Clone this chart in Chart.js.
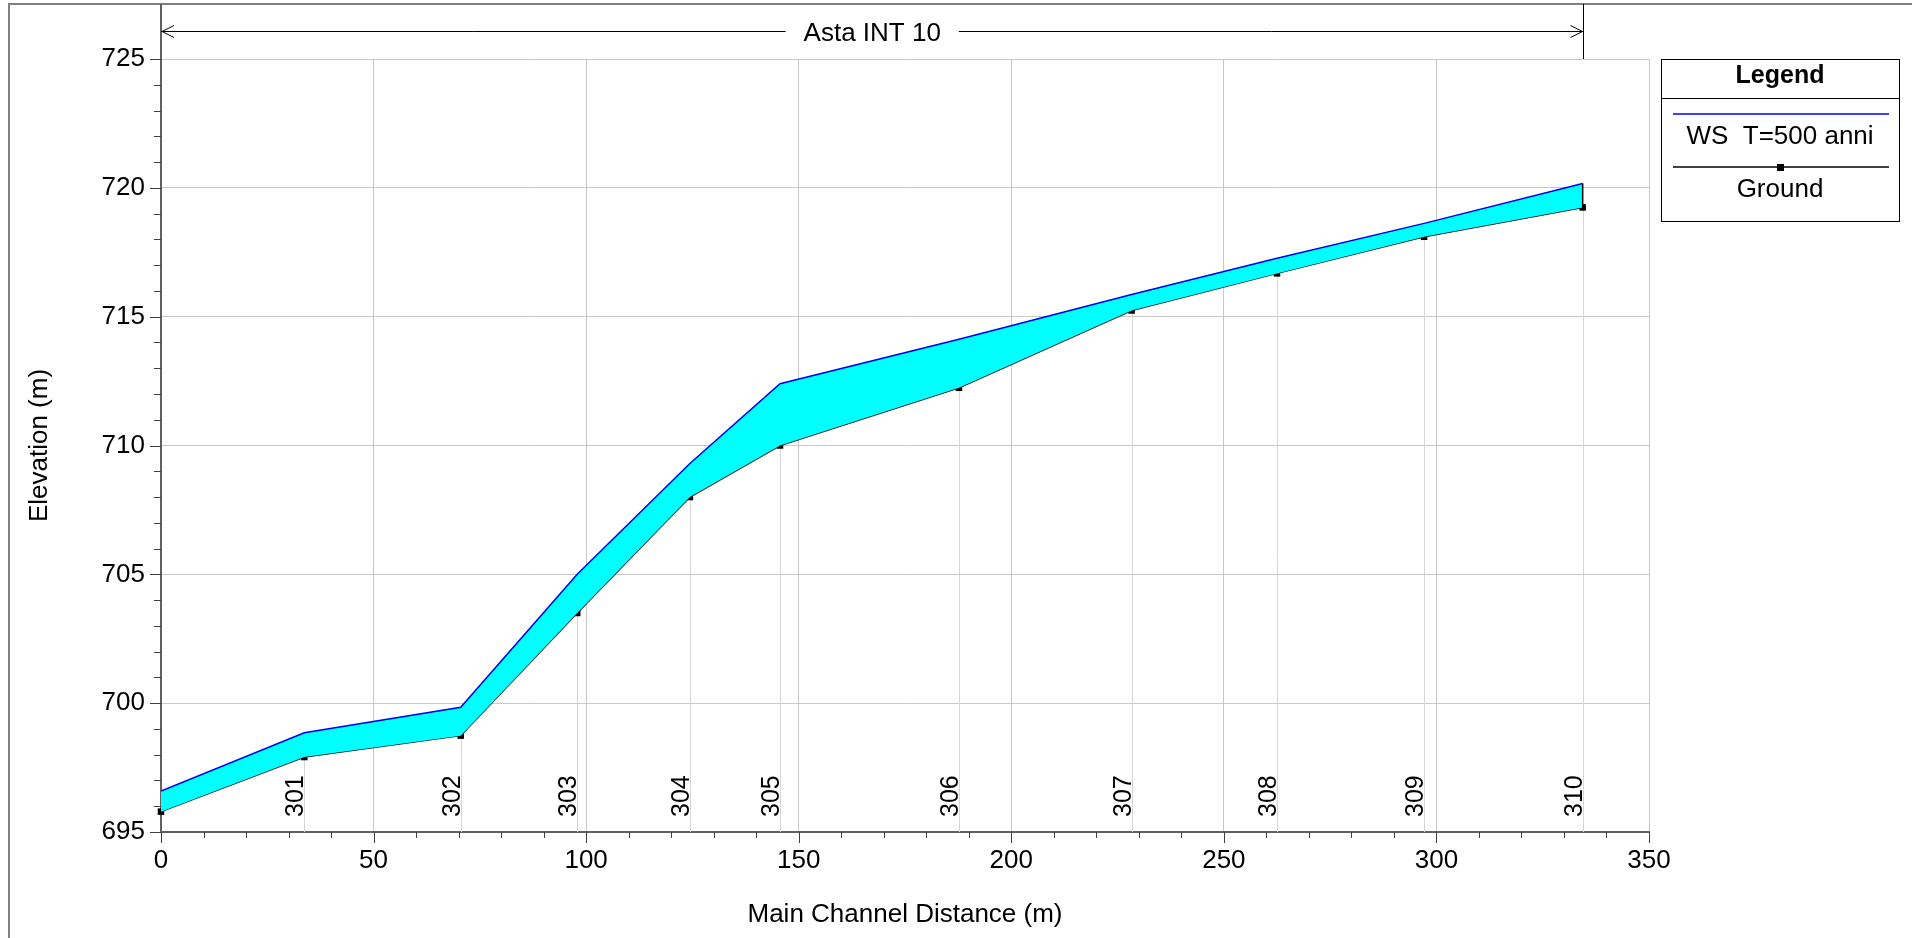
<!DOCTYPE html>
<html>
<head>
<meta charset="utf-8">
<title>Asta INT 10</title>
<script src="https://cdn.jsdelivr.net/npm/chart.js@4.4.0/dist/chart.umd.min.js"></script>
<style>
  html, body { margin: 0; padding: 0; background: #fff; }
  canvas { display: block; }
</style>
</head>
<body>
<canvas id="profile" width="1912" height="938"></canvas>
<script>
"use strict";

var reachName = "Asta INT 10";
var stations = ["", "301", "302", "303", "304", "305", "306", "307", "308", "309", "310"];
var distance = [0, 33.7, 70.5, 97.9, 124.4, 145.6, 187.7, 228.3, 262.5, 297.1, 334.4];
var wsElev = [696.59, 698.85, 699.84, 705.0, 709.3, 712.4, 714.12, 715.86, 717.27, 718.62, 720.17];
var groundElev = [695.79, 697.91, 698.74, 703.5, 708.0, 710.0, 712.24, 715.24, 716.68, 718.1, 719.24];
var seriesNames = ["WS  T=500 anni", "Ground"];
var xTicks = [0, 50, 100, 150, 200, 250, 300, 350];
var yTicks = [695, 700, 705, 710, 715, 720, 725];

var FONT = "'Liberation Sans', Arial, sans-serif";
Chart.defaults.font.family = FONT;
Chart.defaults.color = "#000";

function points(ys) {
    return distance.map(function(x, i) { return { x: x, y: ys[i] }; });
}

// frame, arrow, station lines, minor ticks and the boxed legend
var hecras = {
    id: "hecras",
    beforeDatasetsDraw: function(chart) {
        var ctx = chart.ctx, xs = chart.scales.x, ys = chart.scales.y, area = chart.chartArea;
        ctx.save();
        ctx.strokeStyle = "#d6d6d6";
        ctx.lineWidth = 1;
        for (var i = 1; i < distance.length; i++) {
            var px = Math.round(xs.getPixelForValue(distance[i])) + 0.5;
            ctx.beginPath();
            ctx.moveTo(px, area.bottom);
            ctx.lineTo(px, ys.getPixelForValue(groundElev[i]));
            ctx.stroke();
        }
        ctx.restore();
    },
    afterDatasetsDraw: function(chart) {
        var ctx = chart.ctx, xs = chart.scales.x, ys = chart.scales.y, area = chart.chartArea;
        var last = distance.length - 1;
        ctx.save();
        // closing edge at the last section
        var ex = xs.getPixelForValue(distance[last]);
        ctx.strokeStyle = "#000";
        ctx.lineWidth = 1.5;
        ctx.beginPath();
        ctx.moveTo(ex, ys.getPixelForValue(wsElev[last]));
        ctx.lineTo(ex, ys.getPixelForValue(groundElev[last]));
        ctx.stroke();

        // station names, vertical
        ctx.fillStyle = "#000";
        ctx.font = "25px " + FONT;
        ctx.textAlign = "left";
        ctx.textBaseline = "alphabetic";
        for (var i = 1; i < stations.length; i++) {
            var px = Math.round(xs.getPixelForValue(distance[i]));
            ctx.save();
            ctx.translate(px - 1, area.bottom - 15);
            ctx.rotate(-Math.PI / 2);
            ctx.fillText(stations[i], 0, 0);
            ctx.restore();
        }
        ctx.restore();
    },
    afterDraw: function(chart) {
        var ctx = chart.ctx, xs = chart.scales.x, ys = chart.scales.y, area = chart.chartArea;
        var last = distance.length - 1;
        var v;
        ctx.save();

        // outer frame
        ctx.strokeStyle = "#808080";
        ctx.lineWidth = 2;
        ctx.beginPath();
        ctx.moveTo(9, chart.height);
        ctx.lineTo(9, 4);
        ctx.lineTo(chart.width, 4);
        ctx.stroke();

        // y axis running up to the frame
        ctx.strokeStyle = "#606060";
        ctx.beginPath();
        ctx.moveTo(area.left, 4);
        ctx.lineTo(area.left, area.top);
        ctx.stroke();

        // reach end marker
        var x0 = area.left, x1 = Math.round(xs.getPixelForValue(distance[last])) + 0.5;
        ctx.strokeStyle = "#000";
        ctx.lineWidth = 1;
        ctx.beginPath();
        ctx.moveTo(x1, 4);
        ctx.lineTo(x1, area.top);
        ctx.stroke();

        // reach arrow with name
        var ay = 31.5;
        ctx.font = "26px " + FONT;
        var tw = ctx.measureText(reachName).width;
        var cx = (x0 + x1) / 2;
        ctx.beginPath();
        ctx.moveTo(x0, ay);
        ctx.lineTo(cx - tw / 2 - 18, ay);
        ctx.moveTo(cx + tw / 2 + 18, ay);
        ctx.lineTo(x1, ay);
        ctx.moveTo(x0 + 13, ay - 6);
        ctx.lineTo(x0 + 1, ay);
        ctx.lineTo(x0 + 13, ay + 6);
        ctx.moveTo(x1 - 13, ay - 6);
        ctx.lineTo(x1 - 1, ay);
        ctx.lineTo(x1 - 13, ay + 6);
        ctx.stroke();
        ctx.fillStyle = "#000";
        ctx.textAlign = "center";
        ctx.textBaseline = "middle";
        ctx.fillText(reachName, cx, ay + 2);

        // tick marks, major and minor
        ctx.strokeStyle = "#404040";
        ctx.lineWidth = 1;
        ctx.beginPath();
        for (v = xs.min; v <= xs.max; v += 10) {
            var px = Math.round(xs.getPixelForValue(v)) + 0.5;
            var len = (v % 50 === 0) ? 11 : 6;
            ctx.moveTo(px, area.bottom);
            ctx.lineTo(px, area.bottom + len);
        }
        for (v = ys.min; v <= ys.max; v += 1) {
            var py = Math.round(ys.getPixelForValue(v)) + 0.5;
            var l2 = (v % 5 === 0) ? 11 : 7;
            ctx.moveTo(area.left, py);
            ctx.lineTo(area.left - l2, py);
        }
        ctx.stroke();

        // legend box
        var lx = area.right + 12, ly = area.top, lw = 238, lh = 162;
        ctx.strokeStyle = "#000";
        ctx.lineWidth = 1;
        ctx.strokeRect(lx + 0.5, ly + 0.5, lw, lh);
        ctx.beginPath();
        ctx.moveTo(lx, ly + 39.5);
        ctx.lineTo(lx + lw, ly + 39.5);
        ctx.stroke();
        ctx.font = "bold 25px " + FONT;
        ctx.fillText("Legend", lx + lw / 2, ly + 17);

        var ds = chart.data.datasets;
        var rows = [ly + 55, ly + 108];
        for (var k = 0; k < ds.length; k++) {
            ctx.strokeStyle = ds[k].borderColor;
            ctx.lineWidth = 1.5;
            ctx.beginPath();
            ctx.moveTo(lx + 12, rows[k]);
            ctx.lineTo(lx + lw - 10, rows[k]);
            ctx.stroke();
            if (ds[k].pointRadius > 0) {
                ctx.fillStyle = ds[k].borderColor;
                ctx.fillRect(lx + lw / 2 - 3, rows[k] - 3, 7, 7);
            }
            ctx.fillStyle = "#000";
            ctx.font = "26px " + FONT;
            ctx.fillText(ds[k].label, lx + lw / 2, rows[k] + 23);
        }
        ctx.restore();
    }
};

var profileChart = new Chart(document.getElementById("profile").getContext("2d"), {
    type: "line",
    data: {
        datasets: [
            {
                label: seriesNames[0],
                data: points(wsElev),
                borderColor: "#0000ff",
                borderWidth: 1.5,
                backgroundColor: "#00ffff",
                fill: "+1",
                pointRadius: 0,
                tension: 0
            },
            {
                label: seriesNames[1],
                data: points(groundElev),
                borderColor: "#000000",
                backgroundColor: "#000000",
                borderWidth: 1.5,
                pointStyle: "rect",
                pointRadius: 4.6,
                pointBorderWidth: 0,
                fill: false,
                tension: 0,
                clip: false
            }
        ]
    },
    options: {
        responsive: false,
        animation: false,
        events: [],
        layout: { padding: { top: 59, right: 263, left: 0, bottom: 0 } },
        plugins: {
            legend: { display: false },
            title: { display: false },
            tooltip: { enabled: false }
        },
        scales: {
            x: {
                type: "linear",
                min: xTicks[0],
                max: xTicks[xTicks.length - 1],
                afterBuildTicks: function(scale) {
                    scale.ticks = xTicks.map(function(t) { return { value: t }; });
                },
                afterFit: function(scale) { scale.height = 106; },
                grid: { color: "#c8c8c8", lineWidth: 1, drawTicks: false },
                border: { color: "#606060", width: 2 },
                ticks: { font: { size: 26 }, padding: 13, color: "#000", maxRotation: 0 },
                title: {
                    display: true,
                    text: "Main Channel Distance (m)",
                    font: { size: 26 },
                    color: "#000",
                    padding: { top: 0, bottom: 8 }
                }
            },
            y: {
                type: "linear",
                min: yTicks[0],
                max: yTicks[yTicks.length - 1],
                afterBuildTicks: function(scale) {
                    scale.ticks = yTicks.map(function(t) { return { value: t }; });
                },
                afterFit: function(scale) { scale.width = 161; },
                grid: { color: "#c8c8c8", lineWidth: 1, drawTicks: false },
                border: { color: "#606060", width: 2 },
                ticks: { font: { size: 26 }, padding: 16, color: "#000" },
                title: {
                    display: true,
                    text: "Elevation (m)",
                    font: { size: 26 },
                    color: "#000",
                    padding: { top: 24, bottom: 0 }
                }
            }
        }
    },
    plugins: [hecras]
});
</script>
</body>
</html>
